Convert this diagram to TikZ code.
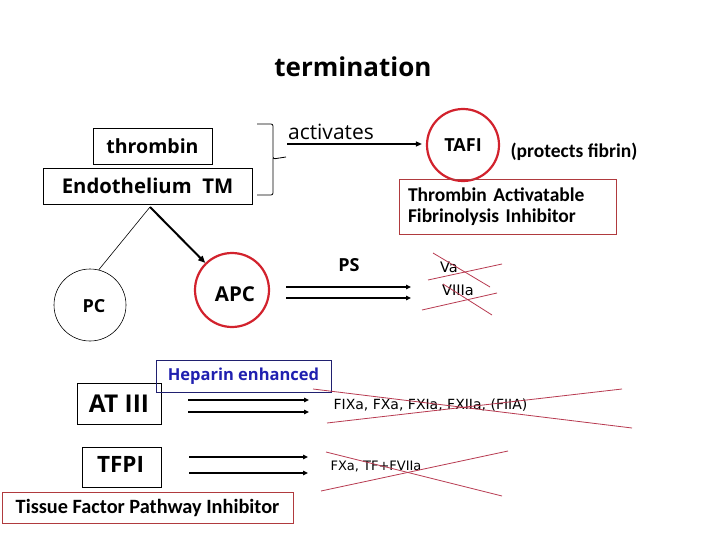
\documentclass[tikz,border=0pt]{standalone}
\usepackage{fontspec}
\setmainfont{Open Sans}
\newfontfamily\calfont{Carlito}
\newfontfamily\tahfont{DejaVu Sans}
\usetikzlibrary{arrows.meta}
\definecolor{cred}{HTML}{D2222D}
\definecolor{tared}{HTML}{B03A3E}
\definecolor{xred}{HTML}{B83A50}
\definecolor{hepnavy}{HTML}{202070}
\definecolor{hepblue}{HTML}{2020B0}
\newcommand\fsz[2]{\fontsize{#1}{#2}\selectfont}
\begin{document}
\begin{tikzpicture}[x=1pt,y=-1pt,
  txt/.style={inner sep=0pt,anchor=center},
  box/.style={draw,line width=0.8pt,inner sep=0pt},
  redcirc/.style={draw=cred,circle,line width=2.2pt,inner sep=0pt},
  blkcirc/.style={draw,circle,line width=0.6pt,inner sep=0pt},
  thinarr/.style={line width=1.3pt,-{Triangle[length=5pt,width=4.5pt]}},
  cross/.style={draw=xred,line width=0.8pt},
  bfont/.style={font=\bfseries\fsz{#1}{#1}},
  cfont/.style={font=\calfont\bfseries\fsz{#1}{21}},
  tfont/.style={font=\tahfont\fsz{#1}{#1}}]
\fill[white] (0,0) rectangle (720,540);
\useasboundingbox (0,0) rectangle (720,540);

% title
\node[txt,bfont=26] (title) at (353,67) {termination};

% top left boxes
\node[box,minimum width=119pt,minimum height=36pt,bfont=19.5] (thr) at (152.5,146) {thrombin};
\node[box,minimum width=209pt,minimum height=36pt,bfont=20.3] (endo) at (147.5,186) {Endothelium\ \ TM};

% bracket
\draw[line width=0.8pt,rounded corners=2pt] (257,124) -- (273,124) -- (273,159) -- (286,157);
\draw[line width=0.8pt,rounded corners=2pt] (273,158) -- (273,195) -- (257,195);

\node[txt,font=\fsz{21}{21}] (act) at (331,132) {activates};

% TAFI
\node[redcirc,minimum size=72pt,bfont=18] (tafi) at (463,145) {TAFI};
\node[txt,cfont=19.5] (prot) at (574,152) {(protects fibrin)};
\node[draw=tared,line width=0.8pt,minimum width=217pt,minimum height=55pt,
      text width=199pt,inner xsep=9pt,inner ysep=0pt,align=left,cfont=19.5] (ta) at (507.5,206.5)
      {Thrombin Activatable\\Fibrinolysis Inhibitor};
\coordinate (actstart) at (287,144);
\draw[line width=1.3pt,-{Triangle[length=6pt,width=5pt]},shorten >=4pt] (actstart) -- (actstart -| tafi.west);

% PC / APC
\node[blkcirc,minimum size=72pt] (pc) at (90,305) {};
\node[txt,bfont=18] (pclbl) at (94,306) {PC};
\node[redcirc,minimum size=74pt] (apc) at (232,290) {};
\node[txt,bfont=20.5] (apclbl) at (235,294) {APC};
\coordinate (apex) at (150,207);
\draw[line width=0.6pt] (apex) -- (pc.76);
\draw[line width=2pt,-{Triangle[length=7pt,width=6pt]}] (apex) -- (apc);

% PS arrows
\node[txt,bfont=18] (ps) at (349,265) {PS};
\coordinate (p1s) at (286,287); \coordinate (p1e) at (411,287);
\coordinate (p2s) at (286,298); \coordinate (p2e) at (411,298);
\draw[thinarr] (p1s) -- (p1e);
\draw[thinarr] (p2s) -- (p2e);
\node[txt,tfont=14.5] (va) at (449,267) {Va};
\node[txt,tfont=14.5] (viiia) at (458,290) {VIIIa};
\draw[cross] (433,253) -- (490,287);
\draw[cross] (428,280) -- (502,264);
\draw[cross] (422,310) -- (497,293);
\draw[cross] (443,284) -- (492,315);

% AT III
\node[box,minimum width=84pt,minimum height=41pt,bfont=24.5] (at) at (119,403.5) {AT III};
\node[draw=hepnavy,line width=0.8pt,inner sep=0pt,minimum width=175pt,minimum height=32pt,
      text=hepblue,bfont=16.5] (hep) at (243.5,376) {Heparin enhanced};
\coordinate (q1s) at (188,400); \coordinate (q1e) at (309,400);
\coordinate (q2s) at (188,412); \coordinate (q2e) at (309,412);
\draw[thinarr] (q1s) -- (q1e);
\draw[thinarr] (q2s) -- (q2e);
\node[txt,tfont=14] (fixa) at (430.5,405) {FIXa, FXa, FXIa, FXIIa, (FIIA)};
\draw[cross] (313,389) -- (632,428);
\draw[cross] (327,423) -- (622,389);

% TFPI
\node[box,minimum width=79pt,minimum height=40pt] (tfpi) at (121.5,467) {};
\node[txt,bfont=22.5] (tfpilbl) at (120.5,464) {TFPI};
\node[draw=tared,line width=0.8pt,inner sep=0pt,minimum width=291pt,minimum height=31pt,cfont=20.3] (tis) at (147.5,507.5) {Tissue Factor Pathway Inhibitor};
\coordinate (r1s) at (189,457); \coordinate (r1e) at (308,457);
\coordinate (r2s) at (189,473); \coordinate (r2e) at (308,473);
\draw[thinarr] (r1s) -- (r1e);
\draw[thinarr] (r2s) -- (r2e);
\node[txt,tfont=13] (fxa) at (376,467) {FXa, TF+FVIIa};
\draw[cross] (326,452) -- (502,496);
\draw[cross] (321,491) -- (508,451);
\end{tikzpicture}
\end{document}
